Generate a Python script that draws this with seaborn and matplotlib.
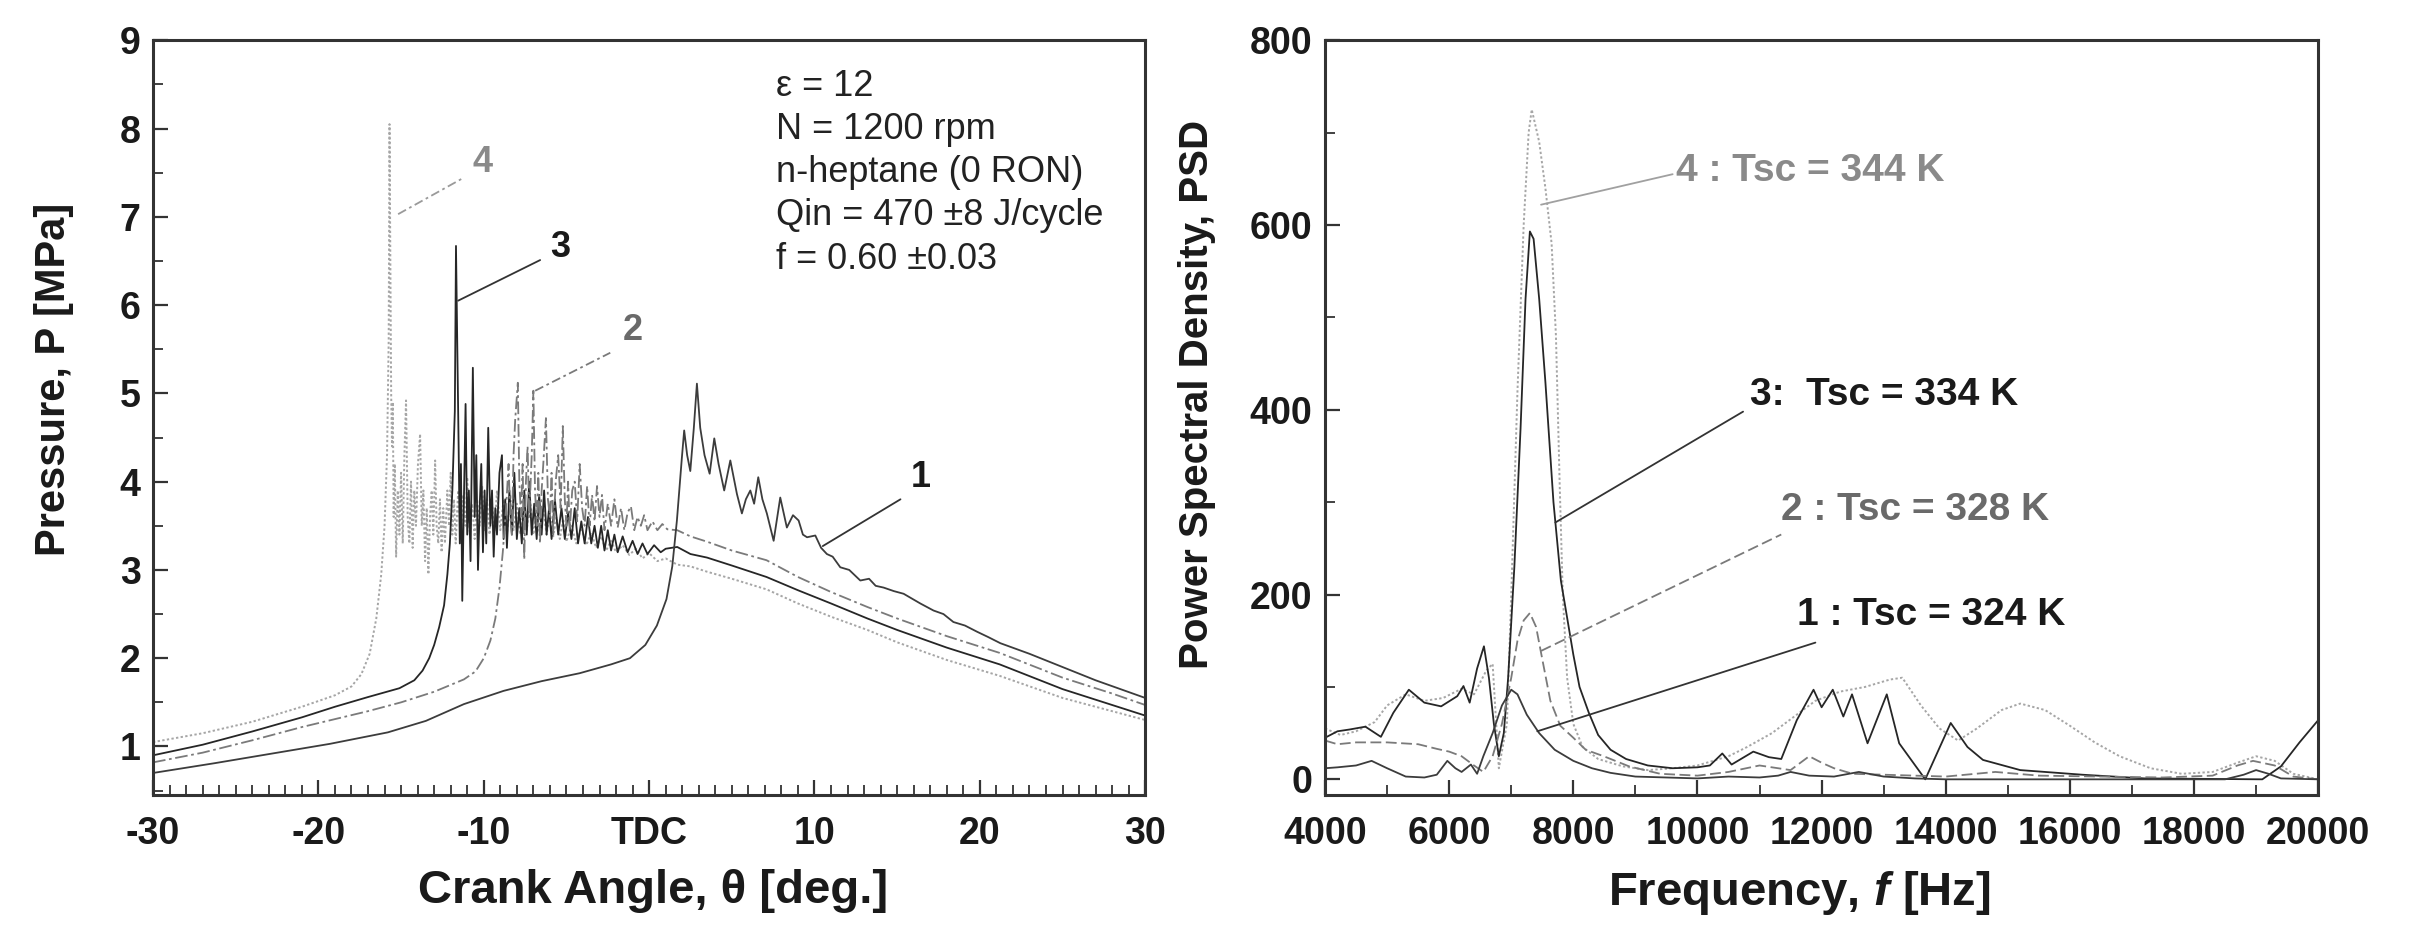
import matplotlib
matplotlib.use("Agg")
import matplotlib.pyplot as plt
import numpy as np
import pandas as pd
import seaborn as sns
from matplotlib.ticker import MultipleLocator, FixedLocator

# ---- left panel: pressure traces (crank angle deg, MPa) ----
theta_1 = [-30, -26.3, -22.8, -19.3, -15.8, -13.5, -11.2, -8.8, -6.5, -4.2, -2.3, -1.16, -0.23, 0.47,
           1.05, 1.4, 1.68, 1.98, 2.12, 2.3, 2.49, 2.7, 2.89, 3.09, 3.35, 3.66, 3.94, 4.2, 4.54, 4.91,
           5.31, 5.61, 5.85, 6.12, 6.35, 6.6, 6.85, 7.12, 7.53, 7.93, 8.33, 8.7, 9.04, 9.3, 9.55, 10.05,
           10.4, 10.75, 11.1, 11.56, 12.1, 12.77, 13.3, 13.7, 14.18, 14.8, 15.39, 16.4, 17.2, 17.8,
           18.4, 19.1, 19.83, 20.5, 21.24, 23, 25, 27, 30]
p_1 = [0.70, 0.81, 0.92, 1.03, 1.16, 1.29, 1.48, 1.63, 1.74, 1.83, 1.93, 2.0, 2.15, 2.37,
       2.67, 3.04, 3.56, 4.27, 4.58, 4.3, 4.12, 4.6, 5.11, 4.61, 4.3, 4.09, 4.49, 4.2, 3.90, 4.24,
       3.86, 3.64, 3.8, 3.9, 3.75, 4.05, 3.8, 3.64, 3.33, 3.82, 3.48, 3.62, 3.56, 3.4, 3.37, 3.39,
       3.25, 3.18, 3.15, 3.03, 3.0, 2.88, 2.9, 2.82, 2.80, 2.76, 2.73, 2.62, 2.54, 2.5,
       2.41, 2.37, 2.30, 2.24, 2.17, 2.05, 1.9, 1.75, 1.55]

theta_2 = [-30, -27, -24, -21, -19, -17, -15, -13, -11.2, -10.5, -10.0, -9.6, -9.3, -9.05, -8.85,
           -8.65, -8.5, -8.4, -8.3, -8.2, -8.1, -7.94, -7.85, -7.75, -7.65, -7.55, -7.45, -7.35, -7.25,
           -7.1, -7.0, -6.9, -6.8, -6.7, -6.6, -6.5, -6.4, -6.24, -6.12, -6.0, -5.9, -5.8, -5.65,
           -5.5, -5.35, -5.22, -5.1, -5.0, -4.9, -4.8, -4.65, -4.5, -4.35, -4.2, -4.05, -3.9, -3.75,
           -3.6, -3.45, -3.3, -3.15, -3.0, -2.85, -2.7, -2.5, -2.3, -2.1, -1.9, -1.7, -1.5, -1.3,
           -1.1, -0.9, -0.7, -0.5, -0.3, -0.1, 0.2, 0.5, 0.8, 1.1, 1.7, 2.5, 3.5, 5.0, 7.1, 9.0,
           11.0, 13.2, 15.0, 18.0, 21.2, 25.0, 28.0, 30.0]
p_2 = [0.82, 0.93, 1.07, 1.22, 1.31, 1.40, 1.50, 1.62, 1.76, 1.85, 2.0, 2.2, 2.45, 2.8, 3.2,
       3.7, 4.2, 3.6, 3.4, 4.3, 4.7, 5.12, 4.0, 3.6, 4.2, 3.12, 4.0, 4.4, 3.6,
       4.3, 5.03, 3.9, 3.5, 4.1, 3.3, 3.9, 4.2, 4.72, 3.8, 3.6, 4.1, 3.4, 4.0,
       4.3, 3.7, 4.63, 3.8, 3.5, 4.0, 3.45, 3.9, 4.0, 3.55, 4.2, 3.7, 3.5, 3.95,
       3.5, 3.85, 3.55, 3.95, 3.6, 3.85, 3.45, 3.75, 3.5, 3.8, 3.48, 3.7, 3.45, 3.65,
       3.72, 3.45, 3.6, 3.5, 3.62, 3.45, 3.55, 3.45, 3.52, 3.46, 3.45, 3.38, 3.32, 3.22, 3.11, 2.92,
       2.75, 2.58, 2.45, 2.25, 2.06, 1.78, 1.6, 1.47]

theta_3 = [-30, -27, -24, -21, -19, -17, -15.1, -14.2, -13.7, -13.3, -13.0, -12.7, -12.4, -12.2,
           -12.05, -11.9, -11.75, -11.68, -11.6, -11.52, -11.45, -11.38, -11.3, -11.2, -11.1, -11.0,
           -10.9, -10.8, -10.66, -10.55, -10.45, -10.35, -10.25, -10.15, -10.05, -9.95, -9.85, -9.73,
           -9.6, -9.5, -9.4, -9.3, -9.2, -9.05, -8.9, -8.8, -8.7, -8.6, -8.45, -8.3, -8.15, -8.0,
           -7.85, -7.7, -7.55, -7.4, -7.25, -7.1, -6.95, -6.8, -6.65, -6.5, -6.35, -6.2, -6.05, -5.9,
           -5.7, -5.5, -5.3, -5.1, -4.9, -4.7, -4.5, -4.3, -4.1, -3.9, -3.7, -3.5, -3.3, -3.1, -2.9,
           -2.7, -2.5, -2.3, -2.1, -1.9, -1.6, -1.3, -1.0, -0.7, -0.4, -0.1, 0.3, 0.7, 1.0, 1.7, 2.5,
           3.5, 5.0, 7.1, 9.0, 11.0, 13.2, 15.0, 18.0, 21.2, 25.0, 28.0, 30.0]
p_3 = [0.90, 1.02, 1.17, 1.33, 1.45, 1.56, 1.66, 1.75, 1.86, 2.0, 2.15, 2.35, 2.6, 2.95,
       3.3, 3.9, 4.8, 6.67, 5.52, 4.4, 3.3, 4.2, 2.65, 3.8, 4.88, 3.4,
       3.9, 3.1, 5.29, 3.6, 4.3, 3.0, 3.7, 4.2, 3.2, 3.9, 3.3, 4.61,
       3.5, 3.9, 3.15, 3.7, 3.4, 4.1, 4.3, 3.35, 3.8, 3.25, 3.9, 3.4, 4.1, 3.35,
       3.7, 3.3, 3.9, 3.4, 4.0, 3.4, 3.75, 3.35, 3.85, 3.4, 3.9, 3.4, 3.7, 3.35,
       3.8, 3.4, 3.7, 3.35, 3.65, 3.35, 3.7, 3.3, 3.55, 3.3, 3.6, 3.3, 3.5, 3.25, 3.5,
       3.22, 3.45, 3.22, 3.4, 3.2, 3.38, 3.2, 3.33, 3.18, 3.3, 3.18, 3.28, 3.2, 3.24, 3.26, 3.18,
       3.14, 3.05, 2.92, 2.77, 2.62, 2.45, 2.32, 2.12, 1.93, 1.65, 1.47, 1.35]

theta_4 = [-30, -27, -24, -21, -19, -18, -17.4, -16.9, -16.5, -16.2, -16.0, -15.85, -15.75, -15.7,
           -15.65, -15.6, -15.55, -15.5, -15.45, -15.38, -15.3, -15.2, -15.1, -15.0, -14.9, -14.8,
           -14.7, -14.6, -14.5, -14.4, -14.3, -14.2, -14.1, -13.98, -13.85, -13.75, -13.65, -13.55,
           -13.45, -13.35, -13.25, -13.15, -13.05, -12.94, -12.85, -12.75, -12.65, -12.55, -12.45,
           -12.35, -12.2, -12.1, -12.0, -11.9, -11.8, -11.7, -11.55, -11.4, -11.25, -11.1, -11.0,
           -10.85, -10.7, -10.55, -10.4, -10.25, -10.1, -9.95, -9.8, -9.65, -9.5, -9.35, -9.2, -9.0,
           -8.8, -8.6, -8.4, -8.2, -8.0, -7.8, -7.6, -7.4, -7.2, -7.0, -6.8, -6.6, -6.4, -6.2, -6.0,
           -5.8, -5.6, -5.4, -5.2, -5.0, -4.7, -4.4, -4.1, -3.8, -3.5, -3.2, -2.9, -2.6, -2.3, -2.0,
           -1.6, -1.2, -0.8, -0.4, 0.0, 0.5, 1.0, 1.7, 2.5, 3.5, 5.0, 7.1, 9.0, 11.0, 13.2, 15.0,
           18.0, 21.2, 25.0, 28.0, 30.0]
p_4 = [1.05, 1.15, 1.28, 1.45, 1.58, 1.68, 1.82, 2.05, 2.45, 2.95, 3.5, 4.3, 5.6, 8.05,
       6.5, 5.0, 4.4, 4.9, 3.6, 4.2, 3.15, 3.9, 3.4, 4.1, 3.3, 4.3,
       4.92, 3.6, 3.3, 4.0, 3.25, 3.9, 3.5, 4.2, 4.54, 3.5, 3.9, 3.1,
       3.7, 2.95, 3.6, 3.9, 3.4, 4.24, 3.5, 3.3, 3.8, 3.2, 3.7,
       3.3, 3.9, 3.5, 4.1, 3.4, 3.8, 3.3, 3.9, 3.35, 3.85, 3.5, 4.05,
       3.4, 3.75, 3.35, 3.8, 3.5, 3.95, 3.45, 3.8, 3.4, 3.75, 3.45, 3.9, 3.45,
       3.8, 3.4, 3.85, 3.45, 3.75, 3.4, 3.7, 3.45, 3.8, 3.4, 3.65, 3.38, 3.7, 3.4, 3.65,
       3.38, 3.6, 3.35, 3.58, 3.32, 3.5, 3.3, 3.48, 3.28, 3.42, 3.25, 3.38, 3.22, 3.33, 3.2,
       3.28, 3.17, 3.24, 3.13, 3.19, 3.1, 3.13, 3.06, 3.04, 2.98, 2.9, 2.78, 2.62, 2.47, 2.32, 2.18,
       1.98, 1.8, 1.55, 1.4, 1.30]

angle_ticks = [-30, -20, -10, 0, 10, 20, 30]
angle_labels = ["-30", "-20", "-10", "TDC", "10", "20", "30"]
conditions = ["\u03b5 = 12", "N = 1200 rpm", "n-heptane (0 RON)",
              "Qin = 470 \u00b18 J/cycle", "f = 0.60 \u00b10.03"]

# ---- right panel: power spectral density ----
freq_1 = [4000, 4200, 4500, 4750, 5000, 5300, 5600, 5800, 5970, 6100, 6200, 6350, 6450, 6550, 6700,
          6850, 7000, 7100, 7250, 7450, 7700, 8000, 8300, 8600, 9000, 9500, 10000, 10500, 11000,
          11300, 11500, 11800, 12200, 12600, 13000, 13500, 14000, 16000, 18500, 18800, 19000,
          19200, 19400, 20000]
psd_1 = [12, 13, 15, 20, 12, 3, 2, 5, 20, 12, 8, 16, 6, 25, 50,
         80, 97, 92, 70, 50, 32, 20, 12, 7, 3, 2, 1, 3, 2,
         4, 8, 4, 3, 8, 3, 1, 0, 0, 0, 5, 10,
         6, 1, 0]

freq_2 = [4000, 4200, 4500, 5000, 5500, 5800, 6000, 6200, 6400, 6550, 6700, 6850, 7000, 7100, 7200,
          7300, 7400, 7500, 7630, 7790, 8000, 8200, 8490, 8900, 9400, 10000, 10500, 11000, 11500,
          11800, 12000, 12200, 12500, 13000, 14000, 14800, 15500, 16500, 17500, 18300, 18700,
          18950, 19300, 19600, 20000]
psd_2 = [42, 38, 40, 40, 38, 33, 30, 25, 15, 8, 25, 60, 110, 150, 172,
         180, 165, 130, 85, 58, 45, 32, 25, 14, 6, 4, 8, 15, 10,
         25, 18, 12, 6, 5, 3, 8, 4, 3, 2, 4, 15,
         20, 15, 3, 0]

freq_3 = [4000, 4200, 4400, 4650, 4900, 5100, 5350, 5600, 5870, 6130, 6230, 6330, 6450, 6560, 6640,
          6720, 6800, 6880, 6950, 7050, 7150, 7230, 7300, 7360, 7450, 7550, 7680, 7800, 7900, 8000,
          8100, 8250, 8400, 8600, 8850, 9200, 9600, 10000, 10200, 10400, 10550, 10700, 10900,
          11150, 11350, 11600, 11870, 12000, 12180, 12350, 12490, 12740, 13050, 13250, 13670,
          14080, 14350, 14600, 15200, 16200, 17200, 19100, 19400, 19700, 20000]
psd_3 = [45, 52, 54, 57, 46, 72, 97, 83, 79, 90, 101, 83, 120, 144, 110,
         60, 25, 50, 110, 230, 380, 520, 593, 585, 520, 430, 300, 215, 175, 135,
         100, 72, 48, 32, 22, 15, 12, 13, 15, 28, 16, 22, 30,
         24, 22, 64, 97, 78, 97, 68, 92, 39, 92, 39, 0,
         61, 35, 21, 10, 5, 1, 0, 14, 40, 64]

freq_4 = [4000, 4250, 4500, 4800, 5000, 5300, 5600, 5900, 6200, 6400, 6600, 6700, 6800, 6930, 7000,
          7100, 7200, 7280, 7330, 7450, 7550, 7650, 7720, 7780, 7830, 7900, 8000, 8150, 8400, 8800,
          9200, 9600, 10000, 10500, 10800, 11200, 11500, 11900, 12300, 12700, 13100, 13300, 13600,
          13900, 14200, 14500, 14900, 15200, 15600, 16000, 16400, 16800, 17300, 17800, 18300,
          18700, 19000, 19300, 19600, 20000]
psd_4 = [55, 48, 52, 62, 80, 92, 85, 88, 98, 92, 118, 125, 12, 60, 200,
         420, 600, 700, 725, 690, 640, 580, 480, 320, 200, 110, 60, 35, 22, 14,
         10, 12, 15, 25, 35, 50, 65, 85, 95, 100, 108, 110, 80,
         55, 42, 55, 75, 82, 75, 58, 40, 25, 12, 6, 8,
         18, 25, 20, 6, 0]

sns.set_theme(style="ticks")
plt.rcParams["font.family"] = ["Liberation Sans", "DejaVu Sans"]
plt.rcParams["mathtext.fontset"] = "custom"
plt.rcParams["mathtext.it"] = "Liberation Sans:italic:bold"
plt.rcParams["mathtext.rm"] = "Liberation Sans:bold"

fig = plt.figure(figsize=(24.14, 9.36), dpi=100)
ax1 = fig.add_axes([0.0634, 0.1506, 0.411, 0.8064])
ax2 = fig.add_axes([0.5489, 0.1506, 0.4114, 0.8064])

styles = {
    1: dict(color="#3c3c3c", linestyle="-", linewidth=1.3),
    2: dict(color="#7a7a7a", linestyle=(0, (7, 2, 1.5, 2)), linewidth=1.3),
    3: dict(color="#262626", linestyle="-", linewidth=1.3),
    4: dict(color="#a6a6a6", linestyle=(0, (1.2, 1.2)), linewidth=1.4),
}

left = [(theta_1, p_1, 1), (theta_2, p_2, 2), (theta_3, p_3, 3), (theta_4, p_4, 4)]
for x, y, k in left[::-1]:
    sns.lineplot(x=x, y=y, ax=ax1, estimator=None, sort=False, **styles[k])

styles_r = dict(styles)
styles_r[2] = dict(color="#7a7a7a", linestyle=(0, (6, 2.5)), linewidth=1.3)
right = [(freq_1, psd_1, 1), (freq_2, psd_2, 2), (freq_3, psd_3, 3), (freq_4, psd_4, 4)]
for x, y, k in right[::-1]:
    sns.lineplot(x=x, y=y, ax=ax2, estimator=None, sort=False, **styles_r[k])

# axes limits and ticks
ax1.set_xlim(-30, 30)
ax1.set_ylim(0.45, 9.0)
ax1.xaxis.set_major_locator(FixedLocator(angle_ticks))
ax1.set_xticklabels(angle_labels)
ax1.xaxis.set_minor_locator(MultipleLocator(1))
ax1.yaxis.set_major_locator(MultipleLocator(1))
ax1.yaxis.set_minor_locator(MultipleLocator(0.5))

ax2.set_xlim(4000, 20000)
ax2.set_ylim(-17, 800)
ax2.xaxis.set_major_locator(MultipleLocator(2000))
ax2.xaxis.set_minor_locator(MultipleLocator(1000))
ax2.yaxis.set_major_locator(MultipleLocator(200))
ax2.yaxis.set_minor_locator(MultipleLocator(100))

for ax in (ax1, ax2):
    for s in ax.spines.values():
        s.set_visible(True)
        s.set_linewidth(2.2)
        s.set_color("#333333")
    ax.tick_params(which="major", direction="in", length=11, width=1.6, color="#333333",
                   labelsize=27, pad=15, top=False, right=False)
    ax.tick_params(which="minor", direction="in", length=7, width=1.3, color="#333333",
                   top=False, right=False)
    ax.tick_params(axis="y", which="major", pad=9)
    for lab in ax.get_xticklabels() + ax.get_yticklabels():
        lab.set_fontweight("bold")
        lab.set_color("#1a1a1a")
    ax.grid(False)

ax1.set_xlabel("Crank Angle, \u03b8 [deg.]", fontsize=34, fontweight="bold", color="#1a1a1a")
ax1.set_ylabel("Pressure, P [MPa]", fontsize=30, fontweight="bold", color="#1a1a1a")
ax1.xaxis.set_label_coords(0.504, -0.098)
ax1.yaxis.set_label_coords(-0.08, 0.551)

ax2.set_xlabel("Frequency, $f$ [Hz]", fontsize=34, fontweight="bold", color="#1a1a1a")
ax2.set_ylabel("Power Spectral Density, PSD", fontsize=29, fontweight="bold", color="#1a1a1a")
ax2.xaxis.set_label_coords(0.478, -0.098)
ax2.yaxis.set_label_coords(-0.11, 0.531)

# conditions text block
for i, line in enumerate(conditions):
    ax1.text(7.7, 8.48 - 0.49 * i, line, fontsize=26, color="#222222", va="center", ha="left")

# curve number labels, left panel
lab_kw = dict(fontsize=26, fontweight="bold", ha="center", va="center")
ax1.text(-10.1, 7.62, "4", color="#8a8a8a", **lab_kw)
ax1.plot([-15.18, -11.24], [7.03, 7.44], color="#9a9a9a", lw=1.3, ls=(0, (5, 2, 1.5, 2)))
ax1.text(-5.4, 6.65, "3", color="#1a1a1a", **lab_kw)
ax1.plot([-11.55, -6.59], [6.05, 6.51], color="#333333", lw=1.3)
ax1.text(-1.0, 5.71, "2", color="#6a6a6a", **lab_kw)
ax1.plot([-6.89, -2.35], [5.03, 5.46], color="#7a7a7a", lw=1.3, ls=(0, (5, 2, 1.5, 2)))
ax1.text(16.4, 4.05, "1", color="#1a1a1a", **lab_kw)
ax1.plot([10.5, 15.2], [3.27, 3.80], color="#333333", lw=1.3)

# curve labels, right panel
r_kw = dict(fontsize=28, fontweight="bold", ha="left", va="center")
ax2.text(9650, 658, "4 : Tsc = 344 K", color="#8a8a8a", **r_kw)
ax2.plot([7480, 9600], [622, 655], color="#a0a0a0", lw=1.3)
ax2.text(10850, 416, "3:  Tsc = 334 K", color="#1a1a1a", **r_kw)
ax2.plot([7710, 10735], [278, 398], color="#333333", lw=1.3)
ax2.text(11350, 292, "2 : Tsc = 328 K", color="#6a6a6a", **r_kw)
ax2.plot([7480, 11350], [139, 265], color="#7a7a7a", lw=1.3, ls=(0, (6, 2.5)))
ax2.text(11600, 178, "1 : Tsc = 324 K", color="#1a1a1a", **r_kw)
ax2.plot([7420, 11900], [52, 148], color="#333333", lw=1.3)

fig.savefig("out.png", dpi=100)
